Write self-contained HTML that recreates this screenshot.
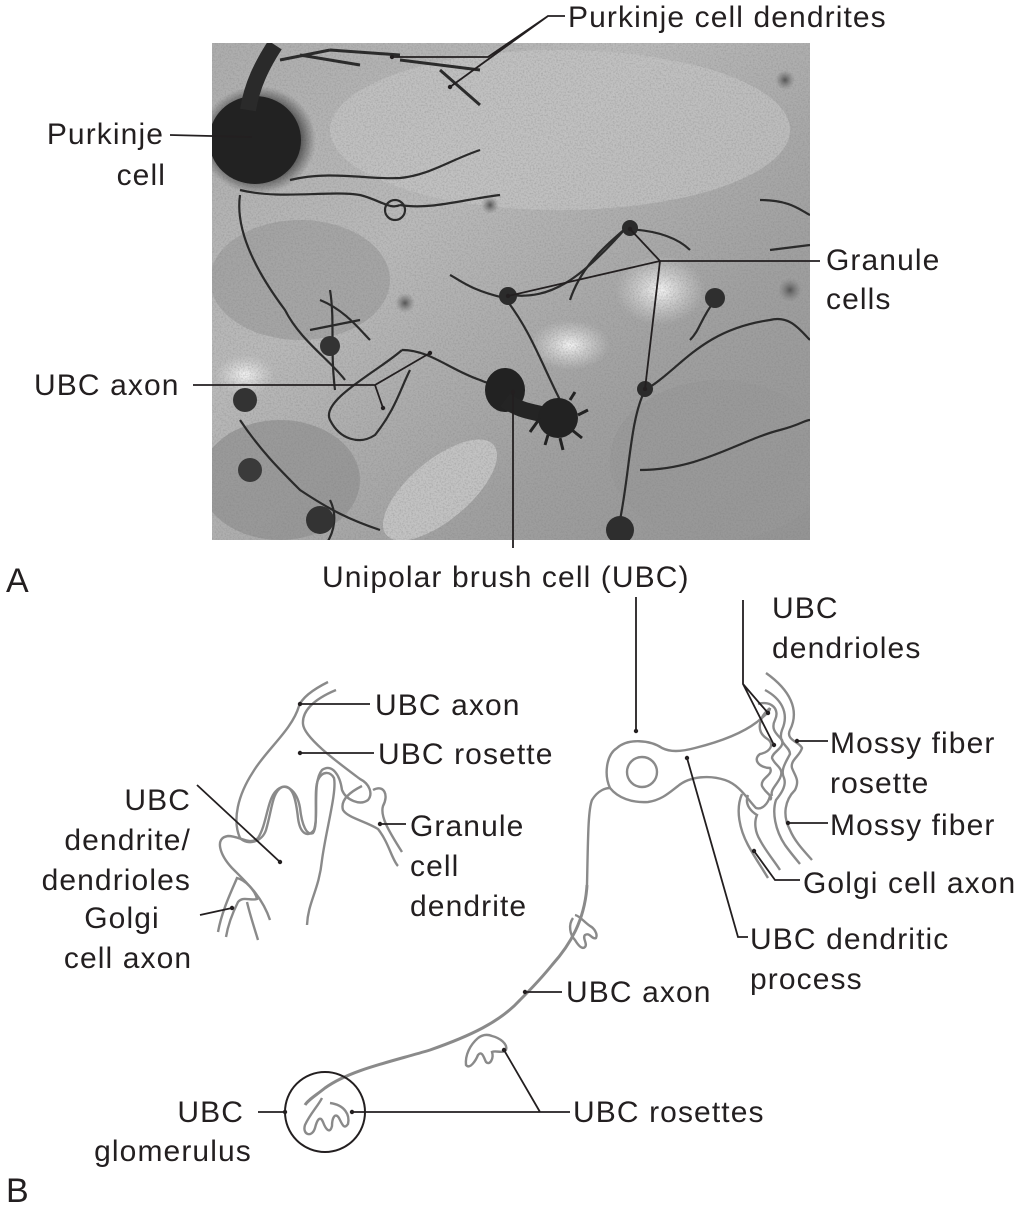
<!DOCTYPE html>
<html><head><meta charset="utf-8"><style>
html,body{margin:0;padding:0;background:#fff;}
svg{display:block;}
text{font-family:"Liberation Sans",sans-serif;font-size:30px;letter-spacing:1.1px;fill:#231f20;}
</style></head><body>
<svg width="1022" height="1210" viewBox="0 0 1022 1210" xmlns="http://www.w3.org/2000/svg">
<defs>
<radialGradient id="blob"><stop offset="0" stop-color="#1e1e1e"/><stop offset="0.6" stop-color="#262626"/><stop offset="1" stop-color="#333" stop-opacity="0"/></radialGradient>
<radialGradient id="soft"><stop offset="0" stop-color="#555"/><stop offset="1" stop-color="#777" stop-opacity="0"/></radialGradient>
<radialGradient id="light"><stop offset="0" stop-color="#f4f4f4"/><stop offset="1" stop-color="#ddd" stop-opacity="0"/></radialGradient>
<linearGradient id="bg" x1="0" y1="0" x2="1" y2="1"><stop offset="0" stop-color="#adadad"/><stop offset="0.35" stop-color="#bababa"/><stop offset="0.7" stop-color="#a0a0a0"/><stop offset="1" stop-color="#949494"/></linearGradient>
<filter id="noise"><feTurbulence type="fractalNoise" baseFrequency="0.6" numOctaves="2" seed="3"/><feColorMatrix type="matrix" values="0 0 0 0 0.2  0 0 0 0 0.2  0 0 0 0 0.2  0 0 0 -2.2 1.3"/></filter>
<clipPath id="ph"><rect x="212" y="43" width="598" height="497"/></clipPath>
</defs>

<g clip-path="url(#ph)">
<rect x="212" y="43" width="598" height="497" fill="url(#bg)"/>
<ellipse cx="560" cy="130" rx="230" ry="80" fill="#c4c4c4" opacity="0.7"/>
<ellipse cx="300" cy="280" rx="90" ry="60" fill="#9c9c9c" opacity="0.7"/>
<ellipse cx="720" cy="460" rx="110" ry="80" fill="#989898" opacity="0.7"/>
<ellipse cx="280" cy="480" rx="80" ry="60" fill="#949494" opacity="0.8"/>
<ellipse cx="440" cy="490" rx="70" ry="30" fill="#cacaca" opacity="0.8" transform="rotate(-40 440 490)"/>
<ellipse cx="660" cy="290" rx="45" ry="35" fill="url(#light)"/>
<ellipse cx="570" cy="345" rx="40" ry="25" fill="url(#light)"/>
<ellipse cx="245" cy="375" rx="30" ry="20" fill="url(#light)"/>
<rect x="212" y="43" width="598" height="497" filter="url(#noise)" opacity="0.35"/>
<ellipse cx="258" cy="140" rx="58" ry="54" fill="url(#blob)"/>
<ellipse cx="255" cy="140" rx="46" ry="44" fill="#222"/>
<path d="M248,110 C252,85 262,65 275,45" stroke="#2a2a2a" stroke-width="16" fill="none"/>
<path d="M280,60 L330,50 M300,55 L360,65 M400,60 L480,70 M440,70 L480,105 M330,50 L400,55" stroke="#2b2b2b" stroke-width="3" fill="none"/>
<g stroke="#2a2a2a" fill="none" stroke-width="2.2">
<path d="M240,195 C235,230 255,270 285,310 C300,340 330,360 345,380"/>
<path d="M240,190 C280,200 330,190 360,195 C380,200 390,210 400,205"/>
<path d="M290,180 C330,170 370,180 400,178 C430,175 450,160 480,150"/>
<path d="M385,210 a10,10 0 1,0 20,0 a10,10 0 1,0 -20,0"/>
<path d="M400,205 C430,210 460,200 500,195"/>
<path d="M330,290 C335,320 330,350 335,390 M320,300 C345,310 360,330 370,340 M310,330 L360,320"/>
<path d="M402,350 C430,350 450,370 480,380 C490,385 500,385 505,385"/>
<path d="M402,350 C380,370 320,400 330,420 C340,440 360,445 375,435 C395,410 400,390 410,370"/>
<path d="M510,295 C550,300 580,280 625,229 M505,298 C530,330 540,360 560,400 M505,298 C470,290 460,280 450,275"/>
<path d="M625,229 C660,230 680,240 690,250 M625,229 C600,250 580,270 570,300"/>
<path d="M645,390 C630,420 630,470 620,520 M645,390 C680,370 700,330 770,320 C790,315 800,330 810,340"/>
<path d="M640,470 C700,470 740,440 780,430 C800,425 805,420 810,420"/>
<path d="M715,300 C700,320 700,330 690,340"/>
<path d="M760,200 C790,200 800,210 810,215 M770,250 L810,245"/>
<path d="M240,420 C260,450 280,470 300,490 C330,510 350,520 380,530"/>
<path d="M330,500 C340,520 330,540 325,545"/>
</g>
<ellipse cx="505" cy="390" rx="20" ry="22" fill="#222"/>
<path d="M505,400 C525,415 540,410 555,420" stroke="#242424" stroke-width="16" fill="none"/>
<circle cx="558" cy="418" r="20" fill="#222"/>
<g stroke="#222" stroke-width="3">
<path d="M540,418 L530,432 M548,435 L545,445 M560,438 L563,450 M572,430 L582,438 M578,415 L588,410 M570,400 L575,392"/>
</g>
<circle cx="630" cy="228" r="8" fill="#2b2b2b"/>
<circle cx="508" cy="296" r="9" fill="#2b2b2b"/>
<circle cx="645" cy="389" r="8" fill="#2b2b2b"/>
<circle cx="715" cy="298" r="10" fill="#2f2f2f"/>
<circle cx="405" cy="303" r="10" fill="url(#soft)"/>
<circle cx="490" cy="205" r="9" fill="url(#soft)"/>
<circle cx="330" cy="346" r="10" fill="#333"/>
<circle cx="245" cy="400" r="12" fill="#333"/>
<circle cx="785" cy="80" r="10" fill="url(#soft)"/>
<circle cx="790" cy="290" r="12" fill="url(#soft)"/>
<circle cx="620" cy="530" r="14" fill="#2e2e2e"/>
<circle cx="320" cy="520" r="14" fill="#333"/>
<circle cx="250" cy="470" r="12" fill="#3a3a3a"/>
</g>

<g stroke="#231f20" stroke-width="1.8" fill="none">
<path d="M565,16 L548,16 L488,57 L392,57 M548,16 L450,87"/>
<path d="M170,135 L252,137"/>
<path d="M820,261 L660,261 L630,229 M660,261 L508,296 M660,261 L645,389"/>
<path d="M193,385 L375,385 L430,353 M375,385 L383,408"/>
<path d="M513,392 L513,548"/>
</g>
<g fill="#231f20">
<circle cx="392" cy="57" r="2.2"/><circle cx="450" cy="87" r="2.2"/>
<circle cx="630" cy="229" r="2.2"/><circle cx="508" cy="296" r="2.2"/><circle cx="645" cy="389" r="2.2"/>
<circle cx="430" cy="353" r="2.2"/><circle cx="383" cy="408" r="2.2"/><circle cx="513" cy="392" r="2.2"/>
</g>

<text x="568" y="27">Purkinje cell dendrites</text>
<text x="164" y="144" text-anchor="end">Purkinje</text>
<text x="166" y="185" text-anchor="end">cell</text>
<text x="826" y="270">Granule</text>
<text x="826" y="309">cells</text>
<text x="34" y="395">UBC axon</text>
<text x="322" y="587">Unipolar brush cell (UBC)</text>
<text x="6" y="592" style="font-size:34px;letter-spacing:0">A</text>

<g stroke="#8a8a8a" stroke-width="2.4" fill="none">
<path d="M328,682 C312,690 302,698 299,706 C292,730 266,750 253,772 C238,795 232,820 240,838 C248,846 262,842 266,830 C272,810 272,792 282,787 C293,784 296,800 298,818 C300,834 308,838 314,830 C319,815 312,782 322,770 C332,763 340,775 342,790 C346,800 360,806 368,800 C373,794 370,784 360,779 C340,764 304,738 303,724 C302,712 312,700 336,690"/>
<path d="M270,920 C262,896 246,882 232,868 C220,855 214,838 228,836 C240,836 250,846 258,838 C267,824 267,800 276,791 C285,781 297,790 300,808 C302,826 307,836 313,833 C319,826 313,790 318,780 C322,771 330,771 334,778 C337,792 326,830 322,860 C319,890 308,902 307,925"/>
<path d="M362,786 C350,792 340,800 343,810 C348,818 365,821 378,829 C389,843 392,860 398,866"/>
<path d="M373,790 C384,784 389,795 383,806 C380,816 388,830 402,852"/>
<path d="M218,932 C222,910 232,890 237,878 C245,880 255,890 257,899 C250,901 243,896 238,902 C233,912 228,925 226,937"/>
<path d="M247,902 C250,915 255,930 258,940"/>
</g>
<g stroke="#231f20" stroke-width="1.8" fill="none">
<path d="M370,704 L300,704"/><path d="M374,753 L300,753"/>
<path d="M197,785 L280,862"/><path d="M406,824 L380,824"/><path d="M200,915 L232,908"/>
</g>
<g fill="#231f20"><circle cx="300" cy="704" r="2.2"/><circle cx="300" cy="753" r="2.2"/><circle cx="280" cy="862" r="2.2"/><circle cx="380" cy="824" r="2.2"/><circle cx="232" cy="908" r="2.2"/></g>
<text x="375" y="715">UBC axon</text>
<text x="378" y="764">UBC rosette</text>
<text x="191" y="810" text-anchor="end">UBC</text>
<text x="191" y="850" text-anchor="end">dendrite/</text>
<text x="191" y="890" text-anchor="end">dendrioles</text>
<text x="122" y="928" text-anchor="middle">Golgi</text>
<text x="128" y="968" text-anchor="middle">cell axon</text>
<text x="410" y="836">Granule</text>
<text x="410" y="876">cell</text>
<text x="410" y="916">dendrite</text>

<g stroke="#8a8a8a" stroke-width="2.4" fill="none">
<path d="M587,885 C588,840 588,810 592,800 C598,790 606,788 610,788 C604,775 606,755 617,748 C628,738 650,740 662,748 C670,752 680,752 695,748 C715,743 740,735 757,722 C764,716 770,712 770,708"/>
<path d="M610,788 C618,798 632,803 648,802 C662,800 670,792 678,786 C690,776 710,775 725,780 C740,785 748,800 756,808 C762,810 768,804 770,796"/>
<circle cx="642" cy="772" r="15"/>
<path d="M770,708 C760,716 755,730 766,738 C776,744 770,752 760,754 C752,760 760,768 770,768 C774,775 760,778 762,786 C766,794 774,796 770,800"/>
<path d="M758,704 C772,700 780,710 775,720 C770,730 778,735 782,740 C785,748 772,752 772,758 C775,766 785,768 780,778 C776,786 770,790 772,796"/>
<path d="M748,795 C744,805 752,812 757,815 C754,822 755,832 760,840 C765,850 775,862 780,870"/>
<path d="M742,794 C735,810 740,830 748,845 C755,858 762,868 768,878"/>
<path d="M766,673 C790,690 800,710 790,730 C785,740 800,742 802,748 C800,756 790,760 792,768 C795,776 800,780 795,790 C785,800 782,815 790,830 C795,842 805,852 812,860"/>
<path d="M765,690 C780,698 790,712 782,730 C777,744 790,746 790,754 C786,762 780,770 784,778 C787,786 780,795 776,800 C772,812 775,830 785,845 C790,852 795,858 800,864"/>
<path d="M587,885 C585,920 570,945 552,965 C540,980 530,990 520,1000 C500,1022 470,1036 430,1050 C390,1062 350,1070 325,1088 C315,1096 308,1100 305,1105" stroke-width="3"/>
<path d="M573,918 C568,925 570,935 575,940 C578,945 582,950 585,947 C588,944 582,938 585,935 C590,932 592,940 596,938 C598,934 594,928 590,926 C584,922 580,916 575,915"/>
<path d="M478,1038 C470,1045 465,1055 466,1065 C470,1070 476,1060 478,1055 C482,1050 484,1058 486,1062 C490,1066 494,1058 492,1052 C496,1050 502,1054 506,1050 C508,1044 500,1038 492,1036 C487,1034 482,1035 478,1038"/>
<path d="M322,1098 C318,1106 310,1114 305,1125 C302,1135 312,1138 315,1128 C317,1120 320,1115 323,1122 C326,1130 330,1134 332,1126 C332,1118 335,1112 339,1118 C342,1124 344,1130 348,1124 C350,1115 345,1105 330,1103"/>
</g>
<circle cx="325" cy="1112" r="40" stroke="#231f20" stroke-width="2" fill="none"/>
<g stroke="#231f20" stroke-width="1.8" fill="none">
<path d="M636,597 L636,731"/>
<path d="M743,600 L743,684 L768,713 M743,684 L774,745"/>
<path d="M828,741 L797,741"/><path d="M828,823 L788,823"/>
<path d="M800,880 L775,880 L754,851"/>
<path d="M748,937 L738,937 L687,758"/>
<path d="M562,992 L525,992"/>
<path d="M570,1112 L352,1112 M540,1112 L504,1050"/>
<path d="M258,1112 L285,1112"/>
</g>
<g fill="#231f20">
<circle cx="636" cy="731" r="2.2"/><circle cx="768" cy="713" r="2.2"/><circle cx="774" cy="745" r="2.2"/>
<circle cx="797" cy="741" r="2.2"/><circle cx="788" cy="823" r="2.2"/><circle cx="754" cy="851" r="2.2"/>
<circle cx="687" cy="758" r="2.2"/><circle cx="525" cy="992" r="2.2"/><circle cx="352" cy="1112" r="2.2"/>
<circle cx="504" cy="1050" r="2.2"/><circle cx="285" cy="1112" r="2.2"/>
</g>
<text x="772" y="618">UBC</text>
<text x="772" y="658">dendrioles</text>
<text x="830" y="753">Mossy fiber</text>
<text x="830" y="793">rosette</text>
<text x="830" y="835">Mossy fiber</text>
<text x="803" y="893">Golgi cell axon</text>
<text x="750" y="949">UBC dendritic</text>
<text x="750" y="989">process</text>
<text x="566" y="1002">UBC axon</text>
<text x="573" y="1122">UBC rosettes</text>
<text x="244" y="1122" text-anchor="end">UBC</text>
<text x="173" y="1161" text-anchor="middle">glomerulus</text>
<text x="6" y="1202" style="font-size:34px;letter-spacing:0">B</text>
</svg>
</body></html>
